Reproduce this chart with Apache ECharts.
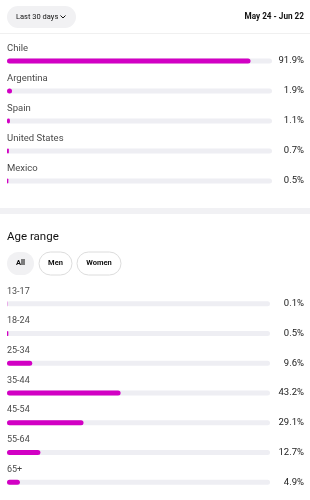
<!DOCTYPE html>
<html>
<head>
<meta charset="UTF-8">
<title>Audience</title>
<script src="https://cdn.jsdelivr.net/npm/echarts@6/dist/echarts.min.js"></script>
<style>
  html, body { margin: 0; padding: 0; background: #fff; }
  #chart { width: 310px; height: 500px; }
</style>
</head>
<body>
<div id="chart"></div>
<script>
// data
const countries = ['Chile', 'Argentina', 'Spain', 'United States', 'Mexico'];
const countryValues = [91.9, 1.9, 1.1, 0.7, 0.5];
const ageRanges = ['13-17', '18-24', '25-34', '35-44', '45-54', '55-64', '65+'];
const ageValues = [0.1, 0.5, 9.6, 43.2, 29.1, 12.7, 4.9];
const ageFilters = ['All', 'Men', 'Women'];

const FONT = 'Roboto, sans-serif';
const MAGENTA = '#d200c4';
const TRACK = '#eeeef3';

const pct = v => v.toFixed(1) + '%';

function barSeries(values, yIdx, xIdx, size) {
    return {
        type: 'bar',
        xAxisIndex: xIdx,
        yAxisIndex: yIdx,
        data: values,
        barWidth: 5,
        itemStyle: { color: MAGENTA, borderRadius: 3 },
        showBackground: true,
        backgroundStyle: { color: TRACK, borderRadius: 3 },
        label: {
            show: true,
            position: [0, -10],
            verticalAlign: 'middle',
            align: 'left',
            formatter: '{b}',
            color: '#4a4a4a',
            fontSize: size,
            fontFamily: FONT
        },
        silent: true
    };
}

function leftAxis(cats, grid) {
    return {
        type: 'category', gridIndex: grid, data: cats, inverse: true,
        axisLine: { show: false }, axisTick: { show: false }, axisLabel: { show: false }
    };
}

function rightAxis(cats, grid, margin) {
    return {
        type: 'category', gridIndex: grid, data: cats, inverse: true, position: 'right',
        axisLine: { show: false }, axisTick: { show: false },
        axisLabel: { align: 'right', margin: margin, color: '#222', fontSize: 9.5, fontFamily: FONT }
    };
}

const chart = echarts.init(document.getElementById('chart'));

// filter pills under "Age range"
const pillX = [7, 39, 77];
const pillW = [27, 33, 44];
const pills = [];
ageFilters.forEach((name, i) => {
    pills.push({
        type: 'rect',
        shape: { x: pillX[i], y: 252, width: pillW[i], height: 23, r: 11.5 },
        style: i === 0 ? { fill: '#f1f1f3' } : { fill: '#fff', stroke: '#dcdcdc', lineWidth: 1 }
    });
    pills.push({
        type: 'text', x: pillX[i] + pillW[i] / 2, y: 263.5,
        style: { text: name, fill: '#111', font: 'bold 7.5px ' + FONT, align: 'center', verticalAlign: 'middle' }
    });
});

chart.setOption({
    animation: false,
    grid: [
        { left: 7, right: 38, top: 46, height: 150 },
        { left: 7, right: 40, top: 289, height: 208 }
    ],
    xAxis: [
        { type: 'value', gridIndex: 0, min: 0, max: 100, show: false },
        { type: 'value', gridIndex: 1, min: 0, max: 100, show: false }
    ],
    yAxis: [
        leftAxis(countries, 0),
        rightAxis(countryValues.map(pct), 0, 32),
        leftAxis(ageRanges, 1),
        rightAxis(ageValues.map(pct), 1, 34)
    ],
    series: [
        barSeries(countryValues, 0, 0, 9.5),
        barSeries(ageValues, 2, 1, 9)
    ],
    graphic: [
        { type: 'rect', shape: { x: 7, y: 6, width: 69, height: 22, r: 11 }, style: { fill: '#f1f1f3' } },
        { type: 'text', x: 16, y: 17, style: { text: 'Last 30 days', fill: '#111', font: '7.5px ' + FONT, verticalAlign: 'middle' } },
        { type: 'polyline', shape: { points: [[60.5, 15.5], [63, 18], [65.5, 15.5]] }, style: { stroke: '#111', lineWidth: 1, fill: null } },
        { type: 'text', x: 304, y: 17, style: { text: 'May 24 - Jun 22', fill: '#111', font: 'bold 8.2px ' + FONT, align: 'right', verticalAlign: 'middle' } },
        { type: 'rect', shape: { x: 0, y: 33, width: 310, height: 1 }, style: { fill: '#f0f0f0' } },
        { type: 'rect', shape: { x: 0, y: 208, width: 310, height: 6 }, style: { fill: '#f1f1f4' } },
        { type: 'text', x: 7, y: 237, style: { text: 'Age range', fill: '#111', font: '11.5px ' + FONT, verticalAlign: 'middle' } }
    ].concat(pills)
});
</script>
</body>
</html>
